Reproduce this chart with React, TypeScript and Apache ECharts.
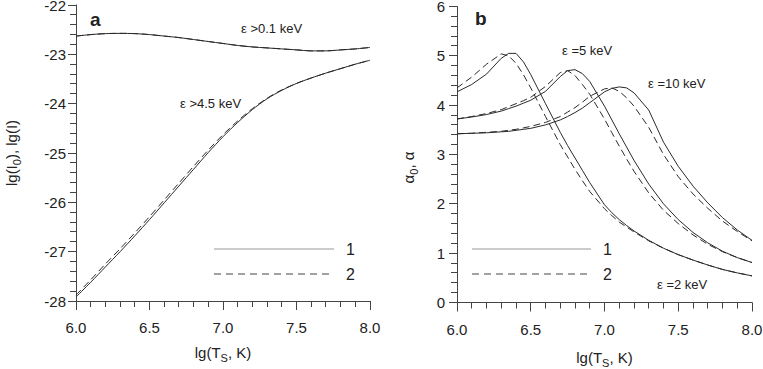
import React, { useEffect, useRef } from "react";
import * as echarts from "echarts";

// ---- Panel a: lg(I) vs lg(Ts) ----
const T_A = [6.0, 6.1, 6.2, 6.3, 6.4, 6.5, 6.6, 6.7, 6.8, 6.9, 7.0, 7.1, 7.2, 7.3, 7.4, 7.5, 7.6, 7.7, 7.8, 7.9, 8.0];
const I01_SOLID = [-22.63, -22.6, -22.58, -22.575, -22.58, -22.6, -22.63, -22.66, -22.7, -22.74, -22.78, -22.82, -22.85, -22.87, -22.89, -22.91, -22.93, -22.93, -22.91, -22.89, -22.86];
const I01_DASHED = [-22.63, -22.6, -22.58, -22.575, -22.58, -22.6, -22.63, -22.66, -22.7, -22.74, -22.78, -22.82, -22.85, -22.87, -22.89, -22.91, -22.93, -22.93, -22.91, -22.89, -22.86];
const I45_SOLID = [-27.92, -27.62, -27.31, -27.0, -26.68, -26.35, -26.01, -25.67, -25.33, -24.99, -24.67, -24.38, -24.12, -23.9, -23.73, -23.59, -23.48, -23.38, -23.29, -23.2, -23.12];
const I45_DASHED = [-27.88, -27.57, -27.25, -26.94, -26.62, -26.29, -25.95, -25.61, -25.27, -24.94, -24.63, -24.35, -24.1, -23.89, -23.72, -23.59, -23.48, -23.38, -23.29, -23.2, -23.12];

// ---- Panel b: alpha vs lg(Ts) ----
const T_B = [6.0, 6.1, 6.2, 6.3, 6.35, 6.4, 6.45, 6.5, 6.6, 6.7, 6.75, 6.8, 6.85, 6.9, 7.0, 7.05, 7.1, 7.15, 7.2, 7.3, 7.4, 7.5, 7.6, 7.7, 7.8, 7.9, 8.0];
const A2_SOLID = [4.27, 4.42, 4.63, 4.95, 5.05, 5.05, 4.88, 4.62, 4.03, 3.45, 3.18, 2.93, 2.68, 2.43, 1.98, 1.82, 1.68, 1.56, 1.45, 1.26, 1.1, 0.97, 0.86, 0.76, 0.67, 0.6, 0.54];
const A2_DASHED = [4.35, 4.57, 4.83, 5.04, 5.0, 4.85, 4.62, 4.35, 3.77, 3.2, 2.95, 2.7, 2.47, 2.25, 1.9, 1.76, 1.63, 1.53, 1.43, 1.25, 1.1, 0.97, 0.86, 0.76, 0.67, 0.6, 0.54];
const A5_SOLID = [3.72, 3.76, 3.81, 3.88, 3.93, 3.98, 4.04, 4.1, 4.28, 4.58, 4.7, 4.72, 4.64, 4.48, 3.98, 3.7, 3.42, 3.15, 2.88, 2.4, 2.0, 1.68, 1.42, 1.21, 1.04, 0.91, 0.81];
const A5_DASHED = [3.72, 3.77, 3.83, 3.91, 3.97, 4.03, 4.09, 4.16, 4.38, 4.66, 4.7, 4.6, 4.42, 4.22, 3.72, 3.44, 3.17, 2.91, 2.66, 2.22, 1.87, 1.6, 1.37, 1.18, 1.03, 0.91, 0.81];
const A10_SOLID = [3.42, 3.43, 3.44, 3.46, 3.47, 3.49, 3.51, 3.53, 3.6, 3.7, 3.77, 3.85, 3.94, 4.05, 4.27, 4.34, 4.37, 4.35, 4.25, 3.9, 3.25, 2.76, 2.36, 2.02, 1.72, 1.47, 1.26];
const A10_DASHED = [3.42, 3.43, 3.45, 3.47, 3.49, 3.51, 3.54, 3.57, 3.65, 3.77, 3.86, 3.95, 4.06, 4.18, 4.33, 4.35, 4.28, 4.15, 3.98, 3.55, 3.0, 2.55, 2.2, 1.91, 1.65, 1.44, 1.25];

// ---- tick positions (major ticks are the labelled ones) ----
const X_TICKS = [6.0, 6.1, 6.2, 6.3, 6.4, 6.5, 6.6, 6.7, 6.8, 6.9, 7.0, 7.1, 7.2, 7.3, 7.4, 7.5, 7.6, 7.7, 7.8, 7.9, 8.0];
const X_LABELS = [6.0, 6.5, 7.0, 7.5, 8.0];
const Y_TICKS_A = [-28, -27.8, -27.6, -27.4, -27.2, -27, -26.8, -26.6, -26.4, -26.2, -26, -25.8, -25.6, -25.4, -25.2, -25, -24.8, -24.6, -24.4, -24.2, -24, -23.8, -23.6, -23.4, -23.2, -23, -22.8, -22.6, -22.4, -22.2, -22];
const Y_LABELS_A = [-28, -27, -26, -25, -24, -23, -22];
const Y_TICKS_B = [0, 0.2, 0.4, 0.6, 0.8, 1, 1.2, 1.4, 1.6, 1.8, 2, 2.2, 2.4, 2.6, 2.8, 3, 3.2, 3.4, 3.6, 3.8, 4, 4.2, 4.4, 4.6, 4.8, 5, 5.2, 5.4, 5.6, 5.8, 6];
const Y_LABELS_B = [0, 1, 2, 3, 4, 5, 6];

const FONT = "'Liberation Sans', Arial, Helvetica, sans-serif";
const INK = "#222";
const AXIS = "#444";
// the chart canvas extends beyond the visible page on every side so no label overflows it
const OX = 12;
const OY = 12;
const PAD_R = 20;
const PAD_B = 30;

const pairs = (xs: number[], ys: number[]) => xs.map((x, i) => [x, ys[i]]);
const isIn = (v: number, arr: number[]) => arr.some((a) => Math.abs(a - v) < 1e-6);
const half = (p: number) => Math.round(p - 0.5) + 0.5;

const line = (name: string, gi: number, xs: number[], ys: number[], dashed: boolean, smooth: number | boolean) => ({
  name,
  type: "line",
  xAxisIndex: gi,
  yAxisIndex: gi,
  data: pairs(xs, ys),
  showSymbol: false,
  smooth,
  lineStyle: { color: "#2a2a2a", width: 1, type: dashed ? [7, 4] : "solid" },
  z: dashed ? 3 : 2,
});

// tick marks drawn through the axes' own scales
const xTickSeries = (gi: number, yMin: number) => ({
  type: "custom",
  xAxisIndex: gi,
  yAxisIndex: gi,
  silent: true,
  clip: false,
  data: X_TICKS,
  renderItem: (_p: any, api: any) => {
    const v = api.value(0);
    const pt = api.coord([v, yMin]);
    const len = isIn(v, X_LABELS) ? 9 : 6;
    const x = half(pt[0]);
    return {
      type: "line",
      shape: { x1: x, y1: pt[1], x2: x, y2: pt[1] + len },
      style: { stroke: AXIS, lineWidth: 1 },
    };
  },
  z: 5,
});

const yTickSeries = (gi: number, ticks: number[], labels: number[]) => ({
  type: "custom",
  xAxisIndex: gi,
  yAxisIndex: gi,
  silent: true,
  clip: false,
  data: ticks,
  renderItem: (_p: any, api: any) => {
    const v = api.value(0);
    const pt = api.coord([6, v]);
    const len = isIn(v, labels) ? 8 : 6;
    const y = half(pt[1]);
    return {
      type: "line",
      shape: { x1: pt[0] - len, y1: y, x2: pt[0], y2: y },
      style: { stroke: AXIS, lineWidth: 1 },
    };
  },
  z: 5,
});

const nameStyle = (padding: number[]) => ({
  fontFamily: FONT,
  fontSize: 15,
  color: INK,
  padding,
  rich: { sub: { fontFamily: FONT, fontSize: 11, color: INK, verticalAlign: "bottom", lineHeight: 22 } },
});

const xAxisCfg = (gi: number, gap: number) => ({
  type: "value",
  gridIndex: gi,
  min: 6,
  max: 8,
  interval: 0.5,
  name: "lg(T{sub|S}, K)",
  nameLocation: "middle",
  nameGap: gap,
  nameTextStyle: nameStyle([0, 0, 0, 0]),
  axisLine: { show: true, onZero: false, lineStyle: { color: AXIS } },
  axisTick: { show: false },
  minorTick: { show: false },
  splitLine: { show: false },
  axisLabel: {
    fontFamily: FONT,
    fontSize: 15,
    color: INK,
    margin: 19,
    formatter: (v: number) => v.toFixed(1),
  },
});

const yAxisCfg = (gi: number, min: number, max: number, name: string, gap: number, margin: number, pad: number[]) => ({
  type: "value",
  gridIndex: gi,
  min,
  max,
  interval: 1,
  name,
  nameLocation: "middle",
  nameGap: gap,
  nameRotate: 90,
  nameTextStyle: nameStyle(pad),
  axisLine: { show: true, onZero: false, lineStyle: { color: AXIS } },
  axisTick: { show: false },
  minorTick: { show: false },
  splitLine: { show: false },
  axisLabel: { fontFamily: FONT, fontSize: 15, color: INK, margin: margin },
});

const txt = (text: string, x: number, y: number, size = 13, weight = "normal", align = "left") => ({
  type: "text",
  x: x + OX,
  y: y + OY,
  style: {
    text,
    font: `${weight} ${size}px ${FONT}`,
    fill: INK,
    textAlign: align,
    textVerticalAlign: "middle",
  },
  z: 10,
});

const seg = (x1: number, x2: number, y: number, dashed: boolean) => ({
  type: "line",
  shape: { x1: x1 + OX, y1: y + OY, x2: x2 + OX, y2: y + OY },
  style: { stroke: dashed ? "#444" : "#999", lineWidth: 1, lineDash: dashed ? [7, 5] : null },
  z: 10,
});

export default function App() {
  const ref = useRef<HTMLDivElement>(null);
  useEffect(() => {
    if (!ref.current) return;
    const chart = echarts.init(ref.current, null, { renderer: "svg" });
    chart.setOption({
      animation: false,
      grid: [
        { left: 76 + OX, top: 5 + OY, width: 294, height: 296 },
        { left: 457 + OX, top: 6.5 + OY, width: 295, height: 296 },
      ],
      xAxis: [xAxisCfg(0, 40), xAxisCfg(1, 44)],
      yAxis: [
        yAxisCfg(0, -28, -22, "lg(I{sub|0}), lg(I)", 54, 10, [0, 0, 0, 0]),
        yAxisCfg(1, 0, 6, "α{sub|0}, α", 38, 12, [0, 26, 0, 0]),
      ],
      series: [
        line("I>0.1 keV (1)", 0, T_A, I01_SOLID, false, 0.3),
        line("I>0.1 keV (2)", 0, T_A, I01_DASHED, true, 0.3),
        line("I>4.5 keV (1)", 0, T_A, I45_SOLID, false, 0.3),
        line("I>4.5 keV (2)", 0, T_A, I45_DASHED, true, 0.3),
        line("α 2 keV (1)", 1, T_B, A2_SOLID, false, false),
        line("α 2 keV (2)", 1, T_B, A2_DASHED, true, false),
        line("α 5 keV (1)", 1, T_B, A5_SOLID, false, false),
        line("α 5 keV (2)", 1, T_B, A5_DASHED, true, false),
        line("α 10 keV (1)", 1, T_B, A10_SOLID, false, false),
        line("α 10 keV (2)", 1, T_B, A10_DASHED, true, false),
        xTickSeries(0, -28),
        yTickSeries(0, Y_TICKS_A, Y_LABELS_A),
        xTickSeries(1, 0),
        yTickSeries(1, Y_TICKS_B, Y_LABELS_B),
      ],
      graphic: [
        txt("a", 90, 19, 19, "bold"),
        txt("b", 475, 18, 19, "bold"),
        txt("ε >0.1 keV", 241, 28),
        txt("ε >4.5 keV", 180, 103),
        txt("ε =5 keV", 562, 50),
        txt("ε =10 keV", 648, 83),
        txt("ε =2 keV", 657, 284),
        seg(214, 334, 249, false),
        seg(214, 334, 274, true),
        txt("1", 346, 249, 16),
        txt("2", 346, 274, 16),
        seg(472, 591, 249, false),
        seg(472, 591, 274, true),
        txt("1", 603, 249, 16),
        txt("2", 603, 274, 16),
      ],
    });
    return () => chart.dispose();
  }, []);
  return (
    <div style={{ position: "fixed", left: 0, top: 0, width: 763, height: 369, overflow: "hidden", background: "#fff" }}>
      <div
        ref={ref}
        style={{ position: "absolute", left: -OX, top: -OY, width: 763 + OX + PAD_R, height: 369 + OY + PAD_B }}
      />
    </div>
  );
}
